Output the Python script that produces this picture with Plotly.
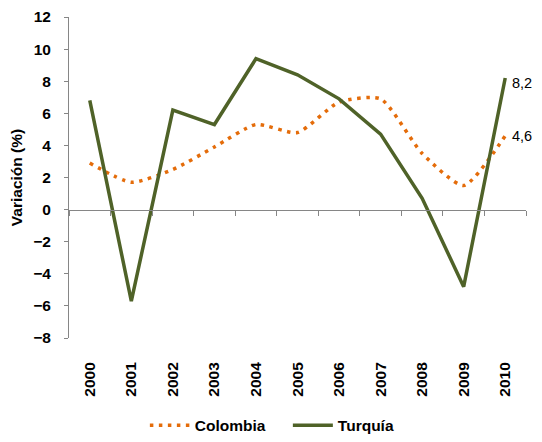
import plotly.graph_objects as go

years = ["2000", "2001", "2002", "2003", "2004", "2005", "2006", "2007", "2008", "2009", "2010"]
colombia = [2.9, 1.7, 2.5, 3.9, 5.3, 4.8, 6.7, 6.9, 3.5, 1.5, 4.6]
turquia = [6.8, -5.7, 6.2, 5.3, 9.4, 8.4, 6.9, 4.7, 0.7, -4.8, 8.2]
y_ticks = list(range(-8, 13, 2))

FONT = "Liberation Sans, Arial, sans-serif"
ORANGE = "#E46C0A"
GREEN = "#4F6228"
GRAY = "#868686"

fig = go.Figure()
fig.add_trace(go.Scatter(
    x=years, y=colombia, name="Colombia", mode="lines",
    line=dict(color=ORANGE, width=3.5, dash="3.5px,5.5px", shape="spline", smoothing=0.6),
    hoverinfo="skip",
))
fig.add_trace(go.Scatter(
    x=years, y=turquia, name="Turquía", mode="lines",
    line=dict(color=GREEN, width=3.5),
    hoverinfo="skip",
))
# helper trace for zero-line category axis
fig.add_trace(go.Scatter(x=years, y=[None]*len(years), xaxis="x2", showlegend=False, hoverinfo="skip"))

def fmt(v):
    return f"{v:.1f}".replace(".", ",")

last = len(years) - 1
fig.add_annotation(x=last, y=turquia[-1], text=fmt(turquia[-1]), showarrow=False,
                   xanchor="left", xshift=5, yshift=-5,
                   font=dict(family=FONT, size=14.5, color="#000"))
fig.add_annotation(x=last, y=colombia[-1], text=fmt(colombia[-1]), showarrow=False,
                   xanchor="left", xshift=5, yshift=0,
                   font=dict(family=FONT, size=14.5, color="#000"))

# the page body adds an 8px margin around the figure, so it is laid out 16px smaller
fig.update_layout(
    width=526, height=426,
    margin=dict(l=61, r=8, t=9, b=96, autoexpand=False),
    paper_bgcolor="white", plot_bgcolor="white",
    font=dict(family=FONT, color="#000"),
    showlegend=True,
    legend=dict(orientation="h", x=0.166, xanchor="left", y=-0.273, yanchor="middle",
                font=dict(family=FONT, size=15.5, weight="bold"), itemwidth=40,
                entrywidth=88, entrywidthmode="pixels",
                bgcolor="rgba(0,0,0,0)"),
    xaxis=dict(
        type="category", range=[-0.5, 10.5], showline=False, showgrid=False, zeroline=False,
        ticks="outside", ticklen=17, tickcolor="rgba(0,0,0,0)", tickangle=-90,
        tickfont=dict(family=FONT, size=15.5, weight="bold"), automargin=False,
    ),
    xaxis2=dict(
        type="category", range=[-0.5, 10.5], overlaying="x", anchor="free", position=0.4,
        side="bottom", showline=True, linecolor=GRAY, linewidth=1, showgrid=False, zeroline=False,
        ticks="outside", tickson="boundaries", ticklen=5, tickcolor=GRAY, showticklabels=False,
        automargin=False,
    ),
    yaxis=dict(
        range=[-8, 12], tickvals=y_ticks, showline=True, linecolor=GRAY, linewidth=1,
        showgrid=False, zeroline=False, ticks="outside", ticklen=4, tickcolor=GRAY,
        ticklabelstandoff=10, automargin=False, ticklabeloverflow="allow",
        tickfont=dict(family=FONT, size=15.5, weight="bold"),
        title=dict(text="Variación (%)", standoff=10,
                   font=dict(family=FONT, size=15.5, weight="bold")),
    ),
)

fig.write_html("out.html")
